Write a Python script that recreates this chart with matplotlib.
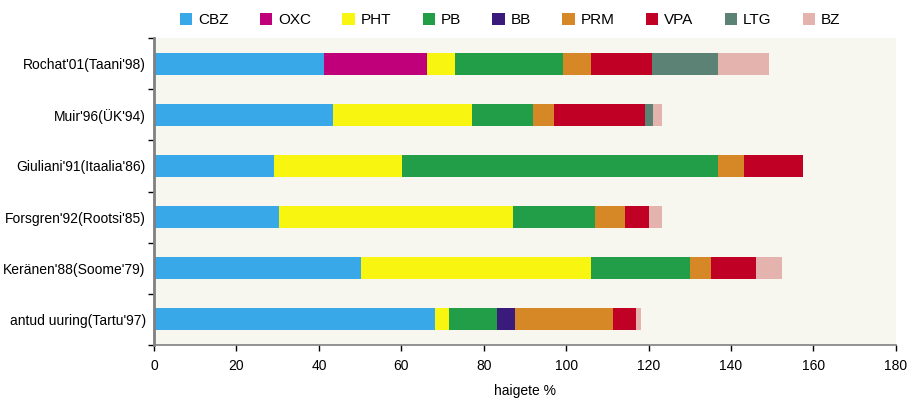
import numpy as np
import matplotlib.pyplot as plt

plt.rcParams['font.family'] = ['Liberation Sans', 'DejaVu Sans']

# uuringud (ylalt alla)
studies = ["Rochat'01(Taani'98)", "Muir'96(ÜK'94)", "Giuliani'91(Itaalia'86)",
           "Forsgren'92(Rootsi'85)", "Keränen'88(Soome'79)", "antud uuring(Tartu'97)"]

drugs = ["CBZ", "OXC", "PHT", "PB", "BB", "PRM", "VPA", "LTG", "BZ"]

# haigete % iga ravimi kohta
cbz = [41.3, 43.4, 29.1, 30.3, 50.2, 68.2]
oxc = [25.0, 0, 0, 0, 0, 0]
pht = [6.8, 33.8, 31.1, 56.8, 55.9, 3.4]
pb = [26.2, 14.8, 76.7, 19.9, 24.0, 11.7]
bb = [0, 0, 0, 0, 0, 4.3]
prm = [6.8, 5.1, 6.3, 7.3, 5.1, 23.8]
vpa = [14.8, 22.1, 14.3, 5.8, 10.9, 5.6]
ltg = [16.0, 1.9, 0, 0, 0, 0]
bz = [12.4, 2.2, 0, 3.2, 6.3, 1.2]

colors = ["#38A8E8", "#C0007A", "#F8F510", "#239E48", "#3A1A7A",
          "#D68826", "#C00025", "#5C8275", "#E5B3AD"]

series = [cbz, oxc, pht, pb, bb, prm, vpa, ltg, bz]

fig = plt.figure(figsize=(9.07, 3.99), dpi=100)
ax = fig.add_axes([0.1698, 0.1353, 0.818, 0.7695])
ax.set_facecolor("#F7F7F0")

y = np.arange(len(studies))
left = np.zeros(len(studies))
for name, vals, c in zip(drugs, series, colors):
    vals = np.array(vals)
    ax.barh(y, vals, left=left, height=0.43, color=c, label=name)
    left += vals

ax.set_ylim(len(studies) - 0.5, -0.5)
ax.set_xlim(0, 180)
ax.set_xticks(np.arange(0, 181, 20))
ax.set_yticks(y)
ax.set_yticklabels(studies, fontsize=10)
ax.tick_params(axis='y', length=0, pad=6)
ax.set_yticks(np.arange(-0.5, len(studies)), minor=True)
ax.tick_params(axis='y', which='minor', length=4, width=1, color='black')
ax.tick_params(axis='x', labelsize=10, length=4, width=1, pad=6)

for s in ['top', 'right']:
    ax.spines[s].set_visible(False)
ax.spines['left'].set_color('#808080')
ax.spines['left'].set_linewidth(2)
ax.spines['bottom'].set_color('#808080')
ax.spines['bottom'].set_linewidth(1.2)

ax.set_xlabel("haigete %", fontsize=10, labelpad=8)

ax.legend(ncol=9, loc='lower center', bbox_to_anchor=(0.48, 1.0), frameon=False,
          fontsize=11, handlelength=0.8, handleheight=0.8, columnspacing=2.05,
          handletextpad=0.4, borderaxespad=0.3)

plt.savefig("out.png", dpi=100)
